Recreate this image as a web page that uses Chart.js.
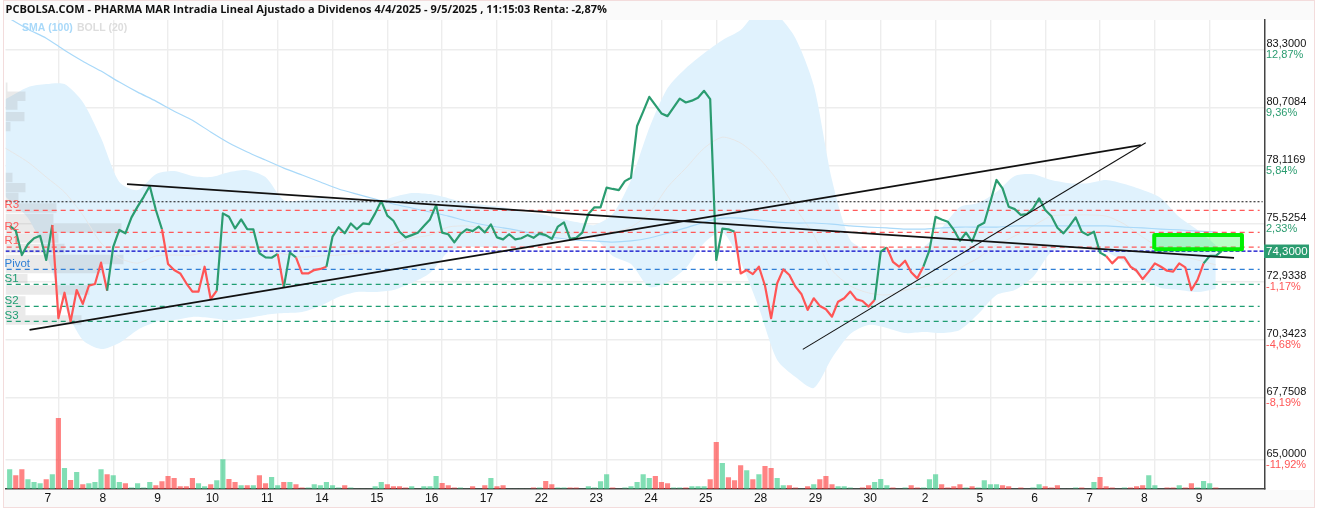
<!DOCTYPE html>
<html>
<head>
<meta charset="UTF-8">
<title>PCBOLSA - PHARMA MAR</title>
<style>
html, body { margin: 0; padding: 0; background: #fff; overflow: hidden; }
</style>
</head>
<body>
<canvas id="chart" width="1318" height="512"></canvas>

<script src="https://cdn.jsdelivr.net/npm/chart.js@4"></script>

<script>
const titleText = 'PCBOLSA.COM - PHARMA MAR Intradia Lineal Ajustado a Dividenos 4/4/2025 - 9/5/2025 , 11:15:03 Renta: -2,87%';

// session labels, one every 9 intraday samples starting at sample 8
const dayLabels = ['7','8','9','10','11','14','15','16','17','22','23','24','25','28','29','30','2','5','6','7','8','9'];
const samplesPerDay = 9;
const firstDaySample = 8;

const yTicks = [83.3, 80.7084, 78.1169, 75.5254, 72.9338, 70.3423, 67.7508, 65];
const yTickLabels = ['83,3000','80,7084','78,1169','75,5254','72,9338','70,3423','67,7508','65,0000'];
const yTickPercents = ['12,87%','9,36%','5,84%','2,33%','-1,17%','-4,68%','-8,19%','-11,92%'];

const lastPrice = 74.3;
const lastPriceLabel = '74,3000';

const prices = [
  75.42,75.21,74.12,74.61,74.87,74.98,73.90,75.46,71.30,72.44,
  71.15,72.56,71.94,72.75,72.83,73.78,72.53,74.49,75.24,75.09,
  75.80,76.28,76.72,77.20,76.13,75.27,73.72,73.45,73.30,72.86,
  72.49,72.49,73.60,72.16,72.53,75.98,75.83,75.31,75.71,75.28,
  75.27,74.20,74.02,74.00,74.17,72.68,74.23,74.02,73.30,73.30,
  73.45,73.50,73.60,74.94,75.36,75.09,75.53,75.27,75.53,75.50,
  75.98,76.53,75.88,75.65,75.16,74.91,75.01,75.12,75.42,75.71,
  76.35,75.12,75.05,74.69,75.06,75.27,75.19,75.39,75.13,75.49,
  74.91,74.82,75.05,74.82,74.87,75.01,74.89,75.09,75.01,74.84,
  75.39,75.58,74.84,74.89,75.12,75.95,76.25,76.25,77.13,77.07,
  77.02,77.42,77.57,79.88,80.52,81.18,80.81,80.44,80.32,80.71,
  81.10,80.93,81.01,81.14,81.45,81.08,73.90,75.30,75.27,75.16,
  73.30,73.45,73.27,73.60,72.75,71.30,72.86,73.48,73.23,72.71,
  72.37,71.67,72.19,71.85,71.70,71.37,72.04,72.19,72.49,72.14,
  72.07,71.82,72.11,74.27,74.46,73.82,73.60,73.87,73.35,73.08,
  73.60,74.34,75.83,75.71,75.61,75.24,74.76,75.12,74.72,75.42,
  75.56,76.50,77.47,77.10,76.28,76.17,75.91,75.95,76.20,76.65,
  76.13,75.86,75.34,75.09,75.42,75.80,75.16,75.01,75.16,74.23,
  74.08,73.75,74.02,74.02,73.60,73.42,73.05,73.38,73.75,73.60,
  73.42,73.38,73.75,73.57,72.56,73.01,73.75,74.08,74.08,74.31
];
// runs of samples where the line is red, the rest is green
const redRuns = [[7,16],[25,34],[44,45],[47,52],[119,142],[144,150],[180,196]];

const volumes = [
  58,40,58,28,20,16,28,43,212,62,
  26,50,13,16,20,58,43,40,20,16,
  5,16,5,20,10,22,38,32,7,7,
  32,16,7,13,25,88,29,20,10,10,
  10,40,16,35,10,20,20,13,5,5,
  13,10,20,10,5,10,5,0,0,0,
  7,20,13,7,7,5,7,0,7,7,
  38,17,10,5,5,0,7,0,10,32,
  7,10,0,0,0,0,5,5,23,13,
  5,5,5,5,0,7,5,22,43,5,
  0,5,7,20,43,32,38,20,16,5,
  5,5,7,7,7,28,140,77,34,25,
  70,55,28,43,68,62,32,10,10,5,
  0,7,13,28,38,13,7,7,5,0,
  5,10,20,29,10,5,0,5,10,5,
  5,28,43,13,5,7,13,5,7,5,
  25,13,13,10,7,0,5,0,5,13,
  7,5,10,0,0,5,5,0,20,35,
  7,5,0,5,5,7,10,40,10,0,
  5,5,10,5,16,5,23,16,5
];
const volumeUp = [
  1,0,0,1,1,1,0,1,0,1,
  0,1,0,1,1,1,0,1,1,0,
  1,1,1,1,0,0,0,0,0,0,
  0,1,1,0,1,1,0,0,1,0,
  1,0,0,1,1,0,1,0,0,1,
  1,1,1,1,1,0,1,1,1,1,
  1,1,0,0,0,0,1,1,1,1,
  1,0,0,0,1,1,0,1,0,1,
  0,0,1,1,1,1,0,1,0,0,
  1,1,0,0,1,1,1,1,1,0,
  1,1,1,1,1,1,0,0,0,1,
  1,0,1,1,1,0,0,1,0,0,
  0,1,0,1,0,0,1,1,0,0,
  1,0,1,0,0,0,1,1,1,1,
  0,0,1,1,1,0,1,1,0,0,
  1,1,1,0,0,0,0,1,0,1,
  1,1,1,0,0,1,0,1,1,1,
  0,0,0,1,1,1,0,1,1,0,
  0,0,1,1,0,0,0,1,1,1,
  0,0,1,0,0,1,1,1,0
];

// indicators are read every 3 samples, the first one sits just off the left edge
const bandSamples = [
  -1,3,6,9,12,15,18,21,24,27,30,33,36,39,42,45,48,51,54,57,60,63,66,69,72,75,78,81,84,87,
  90,93,96,99,102,105,108,111,114,117,120,123,126,129,132,135,138,141,144,147,150,153,156,159,
  162,165,168,171,174,177,180,183,186,189,192,195,198
];
const bollUpper = [
  81.03,81.61,81.75,81.75,80.95,79.34,77.38,77.02,77.73,77.87,77.65,77.60,77.82,77.91,77.60,
  76.57,76.57,76.66,76.57,76.57,76.49,76.71,76.89,76.84,76.66,76.44,76.35,76.26,76.04,75.95,
  75.77,75.59,75.46,75.95,77.47,79.79,81.57,82.46,83.13,83.71,84.16,85.05,84.83,83.80,81.70,
  77.47,74.79,74.34,74.34,74.43,74.48,75.33,76.26,76.44,76.93,77.65,77.73,77.47,77.33,77.33,
  77.47,77.29,77.02,76.66,75.82,75.24,74.57
];
const bollLower = [
  76.80,75.77,74.12,71.85,70.33,69.93,70.20,70.78,71.13,71.22,71.36,71.31,71.22,71.31,71.45,
  71.53,71.58,71.85,72.25,72.47,72.47,72.56,72.87,73.32,74.26,74.48,74.48,74.43,74.43,74.52,
  74.79,74.92,74.88,74.08,73.72,72.69,72.92,73.54,74.66,75.15,73.81,71.76,69.44,68.68,68.19,
  69.53,70.60,71.00,70.87,70.64,70.69,70.64,70.78,71.49,72.34,72.56,73.14,74.26,74.43,74.39,
  74.26,73.81,73.05,72.65,72.56,72.47,72.61
];
const bollMiddle = [
  78.94,78.27,77.60,76.93,75.91,74.66,73.99,73.76,74.08,74.12,74.12,74.34,74.52,74.52,74.34,
  74.17,74.03,74.08,74.12,74.21,74.26,74.61,74.88,75.01,75.37,75.42,75.33,75.24,75.15,75.10,
  75.10,75.10,75.10,75.15,75.37,75.99,77.15,78.00,78.89,79.38,79.12,78.45,77.47,76.22,75.01,
  73.45,72.74,72.43,72.34,72.56,72.69,72.92,73.54,73.99,74.57,74.97,75.42,75.86,75.91,75.91,
  75.86,75.50,74.92,74.43,74.12,73.90,73.68
];
const sma100 = [
  84.83,84.20,83.80,83.26,82.77,82.33,81.84,81.39,80.99,80.54,80.14,79.61,79.12,78.72,78.36,
  78.00,77.69,77.38,77.07,76.84,76.62,76.40,76.22,76.04,75.86,75.64,75.46,75.33,75.19,75.01,
  74.88,74.79,74.75,74.70,74.75,74.88,75.10,75.33,75.59,75.77,75.77,75.68,75.59,75.55,75.55,
  75.50,75.42,75.37,75.33,75.28,75.28,75.33,75.37,75.37,75.37,75.42,75.42,75.42,75.42,75.42,
  75.42,75.37,75.33,75.28,75.24,75.19,75.15
];

const levelNames = ['R3','R2','R1','Pivot','S1','S2','S3'];
const levelValues = [76.11,75.13,74.47,73.48,72.81,71.83,71.16];
const levelColors = ['#ff5a5a','#ff5a5a','#ff5a5a','#2f7fd6','#1f9e72','#1f9e72','#1f9e72'];
const highLevel = 76.50;

// volume at price on the left edge
const profilePrices = [81.61,81.21,80.81,80.30,79.85,77.58,77.13,76.69,76.22,75.75,75.33,74.88,74.41,73.92,73.52,73.07,72.56,72.07,71.62,71.22];
const profileVolumes = [2,20,12,19,5,7,20,13,51,48,116,53,59,118,96,22,84,20,20,76];

// hand drawn trend lines: [from sample, from price, to sample, to price, width]
const trendLines = [
  [19.26,77.29,201.0,73.99,1.8],
  [3.26,70.78,185.7,79.03,1.8],
  [130.2,69.91,186.5,79.13,1.1]
];
// marked zone: sample range and price range
const zoneSamples = [187.9,202.3];
const zonePrices = [74.38,75.01];

const GREEN = '#2b9c70';
const RED = '#ff5555';
const X_MIN = -0.685;
const X_MAX = 206;

function isRed(i) {
  return redRuns.some(r => i >= r[0] && i < r[1]);
}
function formatPct(s) { return s.charAt(0) === '-' ? RED : GREEN; }

const pageDecor = {
  id: 'pageDecor',
  beforeDraw(chart) {
    const c = chart.ctx;
    c.save();
    c.fillStyle = '#fafafa';
    c.fillRect(4, 1, 1310, 19);
    c.fillRect(4, 490, 1310, 17);
    c.strokeStyle = '#f3dcdc';
    c.lineWidth = 1;
    c.strokeRect(3.5, 0.5, 1311, 507);
    c.restore();
  },
  beforeDatasetsDraw(chart) {
    const c = chart.ctx;
    c.save();
    c.font = 'bold 10.5px "Liberation Sans"';
    c.textAlign = 'left';
    c.textBaseline = 'middle';
    c.fillStyle = '#a9d9f9';
    c.fillText('SMA (100)', 22, 28.5);
    c.fillStyle = '#dddddd';
    c.fillText('BOLL (20)', 77, 28.5);
    c.restore();
  },
  afterDatasetsDraw(chart) {
    const c = chart.ctx;
    const y = chart.scales.y;
    c.save();
    // percent under each price tick
    c.font = '11px "Liberation Sans"';
    c.textAlign = 'left';
    c.textBaseline = 'middle';
    yTicks.forEach((v, i) => {
      c.fillStyle = formatPct(yTickPercents[i]);
      c.fillText(yTickPercents[i], 1266, y.getPixelForValue(v) + 5.5);
    });
    // level names sit above their line
    c.font = '11.5px "Liberation Sans"';
    levelNames.forEach((name, i) => {
      c.fillStyle = levelColors[i];
      c.fillText(name, 4.5, y.getPixelForValue(levelValues[i]) - 6);
    });
    // last price tag
    const py = y.getPixelForValue(lastPrice);
    c.fillStyle = GREEN;
    c.fillRect(1264, py - 6.5, 45, 13.5);
    c.fillStyle = '#fff';
    c.font = '11.5px "Liberation Sans"';
    c.fillText(lastPriceLabel, 1266, py + 0.5);
    c.restore();
  }
};

const xy = (xs, ys) => xs.map((x, i) => ({x: x, y: ys[i]}));
const sampleIdx = prices.map((_, i) => i);

const datasets = [];

datasets.push({
  type: 'line', label: 'BOLL upper', data: xy(bandSamples, bollUpper),
  borderWidth: 0, backgroundColor: '#e0f2fd', fill: '+1', tension: 0.25, order: 20
});
datasets.push({
  type: 'line', label: 'BOLL lower', data: xy(bandSamples, bollLower),
  borderWidth: 0, fill: false, tension: 0.25, order: 21
});

// gaps between the rows keep them separate strokes
const profileData = [];
profilePrices.forEach((p, i) => {
  profileData.push({x: 0, y: p}, {x: profileVolumes[i], y: p}, {x: profileVolumes[i], y: null});
});
datasets.push({
  type: 'line', label: 'Volume at price', data: profileData, xAxisID: 'xProfile',
  borderColor: 'rgba(150,150,150,0.2)', borderWidth: 9.4, borderCapStyle: 'butt', spanGaps: false, order: 18
});

datasets.push({
  type: 'line', label: 'BOLL (20)', data: xy(bandSamples, bollMiddle),
  borderColor: '#e6e6e6', borderWidth: 1, tension: 0.25, order: 17
});
datasets.push({
  type: 'line', label: 'SMA (100)', data: xy(bandSamples, sma100),
  borderColor: '#a9d9f9', borderWidth: 1.2, tension: 0.2, order: 16
});

const barColor = (ctx) => {
  const i = ctx.dataIndex;
  const a = volumes[i] <= 5 ? 0.3 : 0.6;
  return volumeUp[i] ? 'rgba(45,200,130,' + a + ')' : 'rgba(255,50,50,' + a + ')';
};
datasets.push({
  type: 'bar', label: 'Volumen', data: xy(sampleIdx.slice(0, volumes.length), volumes),
  yAxisID: 'yVolume', backgroundColor: barColor, barThickness: 4.5, grouped: false, order: 15
});

datasets.push({
  type: 'line', label: 'Max', data: [{x: X_MIN, y: highLevel}, {x: X_MAX - 0.3, y: highLevel}],
  borderColor: '#111', borderWidth: 1.2, borderDash: [2, 2], order: 14
});
levelValues.forEach((v, i) => {
  datasets.push({
    type: 'line', label: levelNames[i], data: [{x: X_MIN + 0.2, y: v}, {x: X_MAX - 0.8, y: v}],
    borderColor: levelColors[i], borderWidth: 1.2, borderDash: [5, 4], order: 13
  });
});
datasets.push({
  type: 'line', label: 'Last', data: [{x: X_MIN, y: lastPrice}, {x: X_MAX, y: lastPrice}],
  borderColor: '#0000c8', borderWidth: 1.2, borderDash: [4, 2], order: 12
});

datasets.push({
  type: 'line', label: 'PHARMA MAR', data: xy(sampleIdx, prices),
  borderColor: GREEN, borderWidth: 2.2, borderJoinStyle: 'round',
  segment: { borderColor: ctx => isRed(ctx.p0DataIndex) ? RED : GREEN },
  order: 5
});

trendLines.forEach((t, i) => {
  datasets.push({
    type: 'line', label: 'Tendencia ' + (i + 1),
    data: [{x: t[0], y: t[1]}, {x: t[2], y: t[3]}],
    borderColor: '#111', borderWidth: t[4], order: 4
  });
});

datasets.push({
  type: 'line', label: 'Zona relleno',
  data: [{x: zoneSamples[0], y: zonePrices[1]}, {x: zoneSamples[1], y: zonePrices[1]}],
  borderWidth: 0, backgroundColor: 'rgba(0,255,40,0.27)', fill: {value: zonePrices[0]}, order: 2
});
datasets.push({
  type: 'line', label: 'Zona',
  data: [
    {x: zoneSamples[0], y: zonePrices[0]}, {x: zoneSamples[0], y: zonePrices[1]},
    {x: zoneSamples[1], y: zonePrices[1]}, {x: zoneSamples[1], y: zonePrices[0]},
    {x: zoneSamples[0], y: zonePrices[0]}
  ],
  borderColor: '#00f000', borderWidth: 4, borderJoinStyle: 'round', order: 1
});

const chart = new Chart(document.getElementById('chart'), {
  data: { datasets: datasets },
  plugins: [pageDecor],
  options: {
    responsive: false,
    animation: false,
    devicePixelRatio: 1,
    layout: { padding: { left: 5.5, right: 0, top: 0, bottom: 0 } },
    elements: { point: { radius: 0, hitRadius: 0 }, line: { tension: 0 } },
    plugins: {
      tooltip: { enabled: false },
      legend: { display: false },
      title: {
        display: true,
        text: titleText,
        align: 'start',
        color: '#111',
        font: { family: '"Open Sans"', size: 11, weight: 'bold', lineHeight: 1.2 },
        padding: { top: 3.4, bottom: 3.4 }
      }
    },
    scales: {
      x: {
        type: 'linear',
        offset: false,
        min: X_MIN,
        max: X_MAX,
        afterBuildTicks: (axis) => {
          axis.ticks = dayLabels.map((_, k) => ({value: firstDaySample + k * samplesPerDay}));
        },
        afterFit: (axis) => { axis.height = 23; },
        grid: { color: '#ededed', lineWidth: 1.4, drawTicks: false, offset: false },
        border: { color: '#444', width: 1.5 },
        ticks: {
          color: '#111',
          autoSkip: false,
          maxRotation: 0,
          labelOffset: -10.5,
          padding: 2,
          font: { family: '"Liberation Sans"', size: 12 },
          callback: (v) => dayLabels[(v - firstDaySample) / samplesPerDay]
        }
      },
      xProfile: { type: 'linear', display: false, offset: false, min: 0, max: 1259 },
      y: {
        type: 'linear',
        position: 'right',
        min: 63.68,
        max: 84.61,
        afterBuildTicks: (axis) => { axis.ticks = yTicks.map(v => ({value: v})); },
        afterFit: (axis) => { axis.width = 53.5; },
        grid: { color: '#ededed', lineWidth: 1.4, drawTicks: false },
        border: { color: '#444', width: 1.5 },
        ticks: {
          color: '#111',
          padding: 2,
          autoSkip: false,
          font: { family: '"Liberation Sans"', size: 11, lineHeight: 1 },
          callback: (v) => [yTickLabels[yTicks.indexOf(v)], '']
        }
      },
      yVolume: { type: 'linear', display: false, min: 0, max: 1407 }
    }
  }
});
</script>
</body>
</html>
